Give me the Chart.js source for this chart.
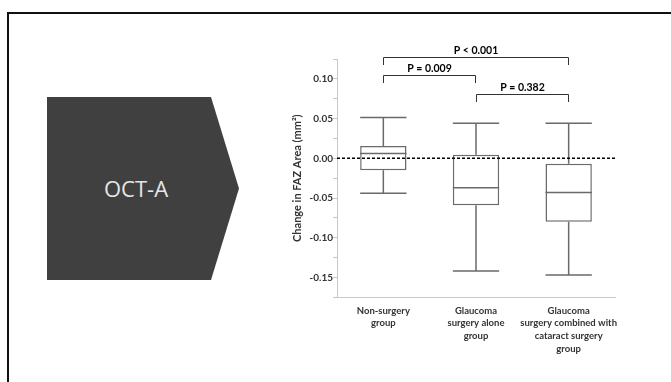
<!DOCTYPE html>
<html>
<head>
<meta charset="utf-8">
<script src="https://cdn.jsdelivr.net/npm/chart.js@4/dist/chart.umd.min.js"></script>
<style>
  html, body { margin: 0; padding: 0; background: #fff; }
  #wrap { position: relative; width: 671px; height: 382px; overflow: hidden; background: #fff; }
  #frame { position: absolute; left: 7px; top: 12px; width: 720px; height: 420px;
           border-top: 2px solid #111; border-left: 2px solid #111; }
  #badge { position: absolute; left: 47px; top: 97px; width: 192px; height: 183px; background: #404040;
           clip-path: polygon(0 0, 164px 0, 192px 91.5px, 164px 183px, 0 183px); }
  #badge span { position: absolute; left: 89px; top: 91px; transform: translate(-50%, -50%);
                font: 400 22px "Open Sans", sans-serif; line-height: 1; color: #e6e6e6; white-space: nowrap; }
  #chart { position: absolute; left: 0; top: 0; }
</style>
</head>
<body>
<div id="wrap">
  <div id="frame"></div>
  <div id="badge"><span>OCT-A</span></div>
  <canvas id="chart" width="671" height="382"></canvas>
</div>
<script>
// Groups on the x axis
const categories = [
  ['Non-surgery', 'group'],
  ['Glaucoma', 'surgery alone', 'group'],
  ['Glaucoma', 'surgery combined with', 'cataract surgery', 'group']
];

// Box-plot summary of change in FAZ area (mm²)
const whiskerLow  = [-0.044, -0.142, -0.147];
const quartile1   = [-0.015, -0.059, -0.080];
const medians     = [ 0.006, -0.037, -0.043];
const quartile3   = [ 0.0155, 0.0045, -0.007];
const whiskerHigh = [ 0.0515, 0.044,  0.044];

// Pairwise comparisons: group indices, bracket height (mm²) and label
const comparisonPairs  = [[0, 2], [0, 1], [1, 2]];
const comparisonLevels = [0.128, 0.105, 0.081];
const comparisonLabels = ['P < 0.001', 'P = 0.009', 'P = 0.382'];

// Value axis
const yMin = -0.175;
const yMax = 0.125;
const yStep = 0.025;
const referenceValue = 0;

const boxRanges = quartile1.map((q, i) => [q, quartile3[i]]);

const FONT = 'Lato, "Open Sans", sans-serif';
const BOX_COLOR = '#6a6a6a';

const boxPlotPlugin = {
  id: 'boxPlotExtras',
  afterDatasetsDraw(chart) {
    const { ctx, scales: { x, y }, chartArea } = chart;
    const meta = chart.getDatasetMeta(0);
    ctx.save();
    // whiskers and medians
    ctx.strokeStyle = BOX_COLOR;
    ctx.lineWidth = 1.5;
    meta.data.forEach((bar, i) => {
      const cx = bar.x;
      const half = bar.width / 2;
      const yHi = y.getPixelForValue(whiskerHigh[i]);
      const yQ3 = y.getPixelForValue(quartile3[i]);
      const yQ1 = y.getPixelForValue(quartile1[i]);
      const yLo = y.getPixelForValue(whiskerLow[i]);
      const yMed = y.getPixelForValue(medians[i]);
      ctx.beginPath();
      ctx.moveTo(cx, yQ3); ctx.lineTo(cx, yHi);
      ctx.moveTo(cx - half, yHi); ctx.lineTo(cx + half, yHi);
      ctx.moveTo(cx, yQ1); ctx.lineTo(cx, yLo);
      ctx.moveTo(cx - half, yLo); ctx.lineTo(cx + half, yLo);
      ctx.moveTo(cx - half, yMed); ctx.lineTo(cx + half, yMed);
      ctx.stroke();
    });
    // dashed reference line at zero change
    const y0 = y.getPixelForValue(referenceValue);
    ctx.strokeStyle = '#000';
    ctx.lineWidth = 1.5;
    ctx.setLineDash([3, 2]);
    ctx.beginPath();
    ctx.moveTo(chartArea.left, y0);
    ctx.lineTo(chartArea.right, y0);
    ctx.stroke();
    ctx.setLineDash([]);
    // significance brackets
    ctx.strokeStyle = '#333';
    ctx.lineWidth = 1;
    ctx.fillStyle = '#000';
    ctx.font = 'bold 10.5px ' + FONT;
    ctx.textAlign = 'center';
    ctx.textBaseline = 'middle';
    comparisonPairs.forEach(([a, b], k) => {
      const xa = Math.round(x.getPixelForValue(a)) + 0.5;
      const xb = Math.round(x.getPixelForValue(b)) - 0.5;
      const yb = Math.round(y.getPixelForValue(comparisonLevels[k])) + 0.5;
      ctx.beginPath();
      ctx.moveTo(xa, yb + 7.5);
      ctx.lineTo(xa, yb);
      ctx.lineTo(xb, yb);
      ctx.lineTo(xb, yb + 7.5);
      ctx.stroke();
      ctx.fillText(comparisonLabels[k], (xa + xb) / 2, yb - 7);
    });
    ctx.restore();
  }
};

new Chart(document.getElementById('chart'), {
  type: 'bar',
  data: {
    labels: categories,
    datasets: [{
      data: boxRanges,
      backgroundColor: '#ffffff',
      borderColor: BOX_COLOR,
      borderWidth: 1.5,
      borderSkipped: false,
      categoryPercentage: 1,
      barPercentage: 0.5
    }]
  },
  options: {
    responsive: false,
    animation: false,
    devicePixelRatio: 1,
    layout: { padding: { left: 285, right: 56, top: 59, bottom: 4.7 } },
    plugins: { legend: { display: false }, tooltip: { enabled: false } },
    scales: {
      x: {
        grid: { display: false, drawTicks: false },
        border: { display: true, color: '#c8c8c8', width: 1 },
        ticks: {
          autoSkip: false, maxRotation: 0, minRotation: 0, padding: 7,
          color: '#333',
          font: { family: FONT, size: 9.5, weight: 'bold', lineHeight: 1.33 }
        },
        afterFit(scale) { scale.height = 80; }
      },
      y: {
        min: yMin,
        max: yMax,
        grid: { drawOnChartArea: false, drawTicks: true, tickLength: 4, color: '#c8c8c8' },
        border: { display: true, color: '#c8c8c8', width: 1 },
        ticks: {
          stepSize: yStep,
          padding: 0,
          color: '#333',
          font: { family: FONT, size: 10, weight: 'bold' },
          callback(v) {
            return Math.round(v * 1000) % 50 === 0 ? v.toFixed(2) : '';
          }
        },
        title: {
          display: true,
          text: 'Change in FAZ Area (mm²)',
          color: '#333',
          padding: { top: 5.4, bottom: 0 },
          font: { family: FONT, size: 11, weight: 'bold' }
        },
        afterFit(scale) { scale.width = 52; }
      }
    }
  },
  plugins: [boxPlotPlugin]
});
</script>
</body>
</html>
